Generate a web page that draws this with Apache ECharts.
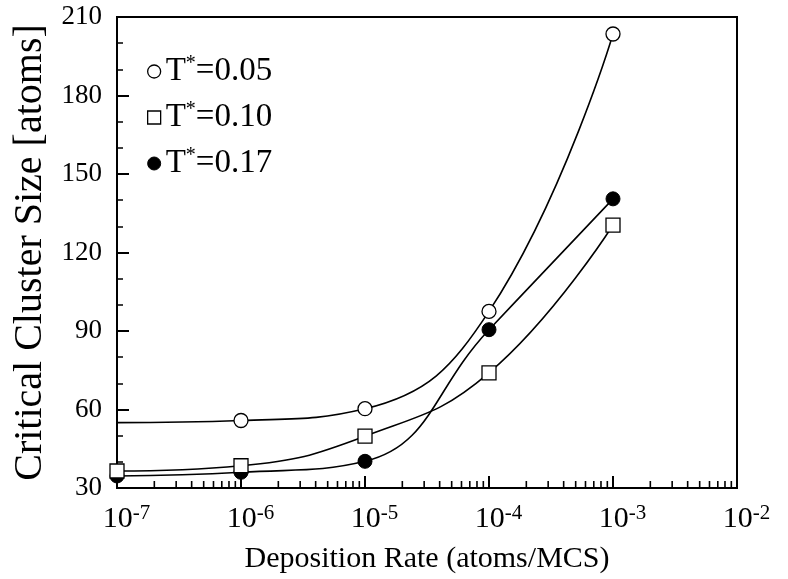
<!DOCTYPE html>
<html>
<head>
<meta charset="utf-8">
<script src="https://cdn.jsdelivr.net/npm/echarts@6/dist/echarts.min.js"></script>
<style>
  html, body { margin: 0; padding: 0; background: #fff; }
  #chart { width: 788px; height: 579px; }
</style>
</head>
<body>
<div id="chart"></div>
<script>
// Deposition rates (atoms/MCS) and critical cluster sizes per reduced temperature
const seriesNames = ['T*=0.05', 'T*=0.10', 'T*=0.17'];
const rates = [1e-7, 1e-6, 1e-5, 1e-4, 1e-3];
const sizeT005 = [55, 55.8, 60.3, 97.5, 203.5];   // first entry: fitted curve at the left edge (no marker)
const sizeT010 = [36.5, 38.5, 49.8, 74, 130.5];
const sizeT017 = [34.6, 36, 40.2, 90.5, 140.5];

// Axis ranges and tick labels
const xMin = 1e-7, xMax = 1e-2;
const yMin = 30, yMax = 210, yStep = 30;
// Intermediate log ticks (2..9 within each decade)
const minorTickValues = [];
for (let e = -7; e <= -3; e++) {
  for (let m = 2; m <= 9; m++) minorTickValues.push(Number((m * Math.pow(10, e)).toPrecision(3)));
}

const serif = '"Liberation Serif", "DejaVu Serif", serif';

function pairs(ys, skipFirstMarker) {
  return ys.map((y, i) => {
    const item = { value: [rates[i], y] };
    if (skipFirstMarker && i === 0) item.symbol = 'none';
    return item;
  });
}

const chart = echarts.init(document.getElementById('chart'), null, { renderer: 'canvas' });

chart.setOption({
  backgroundColor: '#fff',
  animation: false,
  grid: {
    left: 117, right: 51, top: 17, bottom: 90,
    show: true, borderColor: '#000', borderWidth: 2, backgroundColor: 'transparent'
  },
  legend: {
    orient: 'vertical',
    left: 142, top: 49,
    itemGap: 11,
    itemWidth: 13, itemHeight: 13,
    selectedMode: false,
    data: [
      { name: seriesNames[0], icon: 'circle', itemStyle: { color: '#fff', borderColor: '#000', borderWidth: 1.3 } },
      { name: seriesNames[1], icon: 'rect', itemStyle: { color: '#fff', borderColor: '#000', borderWidth: 1.3 } },
      { name: seriesNames[2], icon: 'circle', itemStyle: { color: '#000', borderColor: '#000', borderWidth: 1 } }
    ],
    formatter: name => 'T{s|*}' + name.slice(2),
    textStyle: {
      fontFamily: serif, fontSize: 33, color: '#000', lineHeight: 35,
      rich: { s: { fontFamily: serif, fontSize: 20, color: '#000', verticalAlign: 'top', lineHeight: 22 } }
    }
  },
  xAxis: {
    type: 'log',
    logBase: 10,
    min: xMin, max: xMax,
    name: 'Deposition Rate (atoms/MCS)',
    nameLocation: 'middle',
    nameGap: 56,
    nameTextStyle: { fontFamily: serif, fontSize: 30, color: '#000' },
    axisLine: { show: true, lineStyle: { color: '#000', width: 2 } },
    axisTick: { show: true, inside: true, length: 12, lineStyle: { color: '#000', width: 2 } },
    splitLine: { show: false },
    axisLabel: {
      margin: 15,
      // left spacer keeps the mantissa "10" centred on its tick
      formatter: v => '{p|}10{s|' + Math.round(Math.log10(v)) + '}',
      fontFamily: serif, fontSize: 30, color: '#000', lineHeight: 32,
      rich: {
        p: { width: 19 },
        s: { fontFamily: serif, fontSize: 21, color: '#000', verticalAlign: 'top', lineHeight: 20 }
      }
    }
  },
  yAxis: {
    type: 'value',
    min: yMin, max: yMax, interval: yStep,
    name: 'Critical Cluster Size [atoms]',
    nameLocation: 'middle',
    nameGap: 66,
    nameTextStyle: { fontFamily: serif, fontSize: 40, color: '#000' },
    axisLine: { show: true, lineStyle: { color: '#000', width: 2 } },
    axisTick: { show: true, inside: true, length: 12, lineStyle: { color: '#000', width: 2 } },
    minorTick: { show: true, splitNumber: 3, length: 6, lineStyle: { color: '#000', width: 1.5 } },
    splitLine: { show: false },
    axisLabel: { margin: 15, fontFamily: serif, fontSize: 27, color: '#000' }
  },
  series: [
    {
      name: seriesNames[0], type: 'line', smooth: 0.45,
      data: pairs(sizeT005, true),
      symbol: 'circle', symbolSize: 14,
      itemStyle: { color: '#fff', borderColor: '#000', borderWidth: 1.3 },
      lineStyle: { color: '#000', width: 1.6 }, z: 3
    },
    {
      name: seriesNames[1], type: 'line', smooth: 0.45,
      data: pairs(sizeT010, false),
      symbol: 'rect', symbolSize: 14,
      itemStyle: { color: '#fff', borderColor: '#000', borderWidth: 1.3 },
      lineStyle: { color: '#000', width: 1.6 }, z: 4
    },
    {
      name: seriesNames[2], type: 'line', smooth: 0.45,
      data: pairs(sizeT017, false),
      symbol: 'circle', symbolSize: 14,
      itemStyle: { color: '#000', borderColor: '#000', borderWidth: 1 },
      lineStyle: { color: '#000', width: 1.6 }, z: 2
    },
    {
      // logarithmic minor ticks along the bottom axis
      name: 'minorTicks', type: 'custom', silent: true, clip: false, z: 5,
      data: minorTickValues.map(v => [v, yMin]),
      renderItem: (params, api) => {
        const p = api.coord([api.value(0), api.value(1)]);
        return {
          type: 'line',
          shape: { x1: p[0], y1: p[1], x2: p[0], y2: p[1] - 7 },
          style: { stroke: '#000', lineWidth: 1.6 }
        };
      }
    }
  ]
});
</script>
</body>
</html>
